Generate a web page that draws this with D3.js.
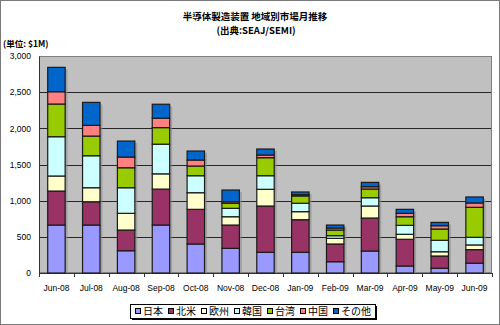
<!DOCTYPE html>
<html>
<head>
<meta charset="utf-8">
<script src="https://cdn.jsdelivr.net/npm/d3@7"></script>
<style>
  html, body { margin: 0; padding: 0; background: #fff; }
  svg { display: block; }
  text { font-family: "Liberation Sans", Arial, sans-serif; }
  .cjk { font-family: "Noto Sans CJK JP", sans-serif; }
</style>
</head>
<body>
<svg id="chart" width="500" height="325"></svg>
<script>
// Monthly semiconductor equipment market by region ($1M)
const months = ["Jun-08","Jul-08","Aug-08","Sep-08","Oct-08","Nov-08","Dec-08",
                "Jan-09","Feb-09","Mar-09","Apr-09","May-09","Jun-09"];
const regions = ["日本","北米","欧州","韓国","台湾","中国","その他"];
const japan  = [663, 663, 308, 663, 401, 341, 286, 286, 156, 304,  97,  65, 136];
const namer  = [470, 322, 286, 497, 479, 322, 640, 451, 245, 456, 369, 170, 187];
const europe = [208, 194, 231, 211, 230, 115, 231, 111,  78, 166,  69,  59,  65];
const korea  = [543, 442, 354, 410, 235, 116, 188, 116,  37, 115, 124, 158, 105];
const taiwan = [452, 272, 276, 229, 134,  69, 249, 101,  78, 120, 119, 156, 415];
const china  = [170, 148, 148, 130,  83,  22,  37,  18,  28,  32,  47,  46,  60];
const others = [337, 318, 221, 193, 124, 162,  83,  37,  41,  60,  55,  46,  83];
const yTicks = [0, 500, 1000, 1500, 2000, 2500, 3000];
const colors = ["#9999FF","#993366","#FFFFCC","#CCFFFF","#99CC00","#FF8080","#0066CC"];

const seriesValues = [japan, namer, europe, korea, taiwan, china, others];
const rows = months.map((m, i) => {
  const r = { month: m };
  regions.forEach((k, j) => { r[k] = seriesValues[j][i]; });
  return r;
});

const svg = d3.select("#chart");
const plot = { left: 39, right: 492, top: 56, bottom: 273 };

// outer frame
svg.append("rect").attr("x", 0.5).attr("y", 0.5).attr("width", 499).attr("height", 324)
  .attr("fill", "#fff").attr("stroke", "#7a7a7a");

// two-line title
const title = svg.append("text").attr("class", "cjk")
  .attr("text-anchor", "middle").attr("font-size", 9.5).attr("font-weight", "bold");
title.append("tspan").attr("x", 255).attr("y", 20).text("半導体製造装置 地域別市場月推移");
title.append("tspan").attr("x", 256).attr("y", 34).text("(出典:SEAJ/SEMI)");

svg.append("text").attr("class", "cjk").attr("x", 3).attr("y", 47)
  .attr("font-size", 8.5).attr("font-weight", "bold")
  .text("(単位: $1M)");

const x = d3.scaleBand().domain(months).range([plot.left, plot.right])
  .paddingInner(0.5).paddingOuter(0.25);
const y = d3.scaleLinear().domain([0, 3000]).range([plot.bottom, plot.top]);

// plot area
svg.append("rect").attr("x", plot.left).attr("y", plot.top)
  .attr("width", plot.right - plot.left).attr("height", plot.bottom - plot.top)
  .attr("fill", "#C0C0C0");

// gridlines
svg.append("g").selectAll("line").data(yTicks.filter(t => t > 0)).join("line")
  .attr("x1", plot.left).attr("x2", plot.right)
  .attr("y1", d => Math.round(y(d)) + 0.5).attr("y2", d => Math.round(y(d)) + 0.5)
  .attr("stroke", "#262626").attr("stroke-width", 1);

// plot border
svg.append("rect").attr("x", plot.left + 0.5).attr("y", plot.top + 0.5)
  .attr("width", plot.right - plot.left - 1).attr("height", plot.bottom - plot.top - 1)
  .attr("fill", "none").attr("stroke", "#808080");

// y axis
const yAxis = d3.axisLeft(y).tickValues(yTicks).tickSize(0).tickPadding(8)
  .tickFormat(d3.format(","));
const gy = svg.append("g").attr("transform", `translate(${plot.left},0)`).call(yAxis);
gy.select(".domain").attr("stroke", "#333");
gy.selectAll("text").attr("font-size", 8.5).attr("fill", "#000")
  .attr("font-family", "Liberation Sans, Arial, sans-serif");

// x axis
const xAxis = d3.axisBottom(x).tickSize(0).tickPadding(12);
const gx = svg.append("g").attr("transform", `translate(0,${plot.bottom})`).call(xAxis);
gx.select(".domain").attr("stroke", "#333");
gx.selectAll("text").attr("font-size", 8.5).attr("fill", "#000")
  .attr("font-family", "Liberation Sans, Arial, sans-serif");

// category boundary ticks
const step = x.step();
svg.append("g").selectAll("line").data(d3.range(months.length + 1)).join("line")
  .attr("x1", i => Math.round(plot.left + i * step) + 0.5)
  .attr("x2", i => Math.round(plot.left + i * step) + 0.5)
  .attr("y1", plot.bottom).attr("y2", plot.bottom + 4)
  .attr("stroke", "#333");

// stacked bars
const stack = d3.stack().keys(regions)(rows);
const totals = rows.map(r => d3.sum(regions, k => r[k]));

// bar shadows
svg.append("g").selectAll("rect").data(rows).join("rect")
  .attr("x", d => x(d.month) + 2.5).attr("y", (d, i) => y(totals[i]) + 2)
  .attr("width", x.bandwidth()).attr("height", (d, i) => plot.bottom - y(totals[i]) - 2)
  .attr("fill", "#8c8c8c").attr("opacity", 0.6);

svg.append("g").selectAll("g").data(stack).join("g")
  .attr("fill", (d, i) => colors[i])
  .selectAll("rect").data(d => d).join("rect")
  .attr("x", d => x(d.data.month))
  .attr("y", d => y(d[1]))
  .attr("width", x.bandwidth())
  .attr("height", d => y(d[0]) - y(d[1]))
  .attr("stroke", "#1a1a1a").attr("stroke-width", 1.2);

// legend
const lg = svg.append("g");
const lgX = 130, lgY = 304, lgH = 14;
const shadow = lg.append("rect").attr("fill", "#000");
const box = lg.append("rect").attr("fill", "#fff").attr("stroke", "#000");
let cx = lgX + 5;
regions.forEach((k, i) => {
  lg.append("rect").attr("x", cx + 0.5).attr("y", lgY + 4.5).attr("width", 5).attr("height", 5)
    .attr("fill", colors[i]).attr("stroke", "#000").attr("stroke-width", 1);
  const t = lg.append("text").attr("class", "cjk").attr("x", cx + 8).attr("y", lgY + 11)
    .attr("font-size", 10).text(k);
  cx += 8 + t.node().getComputedTextLength() + 5;
});
const lgW = cx - lgX - 1;
box.attr("x", lgX + 0.5).attr("y", lgY + 0.5).attr("width", lgW).attr("height", lgH);
shadow.attr("x", lgX + 2).attr("y", lgY + 2).attr("width", lgW).attr("height", lgH);
</script>
</body>
</html>
